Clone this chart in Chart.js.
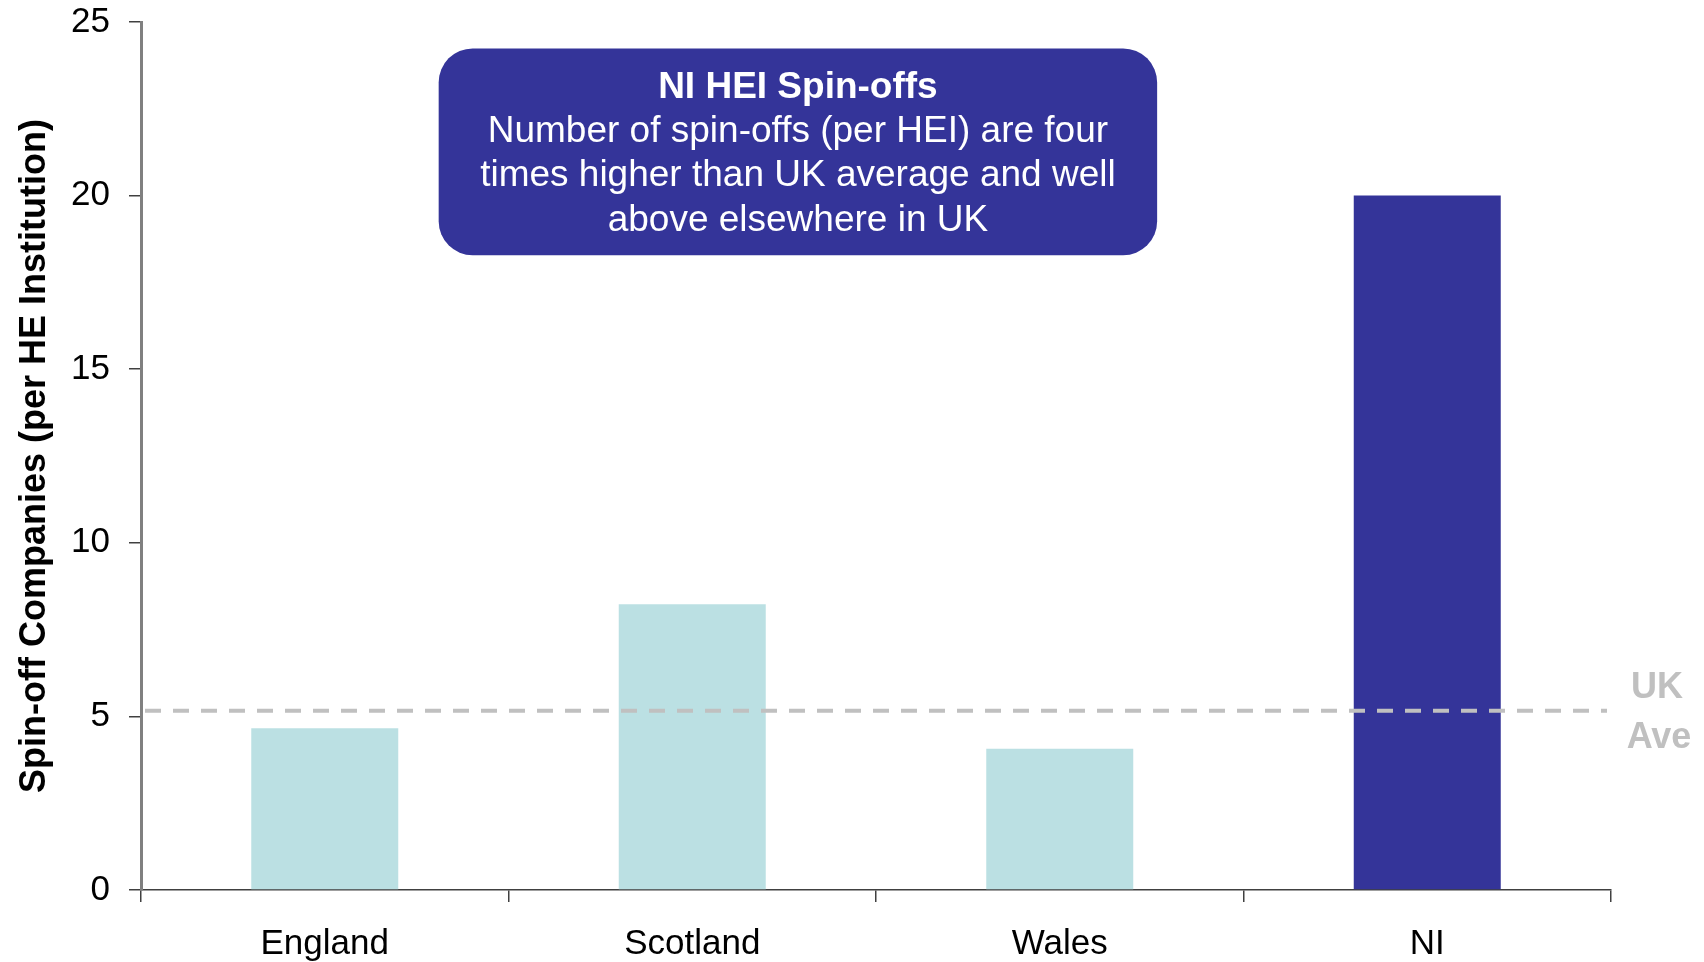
<!DOCTYPE html>
<html>
<head>
<meta charset="utf-8">
<script src="https://cdn.jsdelivr.net/npm/chart.js@4.4.1/dist/chart.umd.min.js"></script>
<style>
  html, body { margin: 0; padding: 0; background: #fff; }
  #wrap { width: 1704px; height: 962px; }
</style>
</head>
<body>
<div id="wrap"><canvas id="spinoffChart" width="1704" height="962"></canvas></div>
<script>
const regions = ['England', 'Scotland', 'Wales', 'NI'];
const spinoffsPerHEI = [4.66, 8.23, 4.07, 20];
const ukAverage = 5.16;
const yTicks = [0, 5, 10, 15, 20, 25];

const calloutTitle = 'NI HEI Spin-offs';
const calloutLines = [
    'Number of spin-offs (per HEI) are four',
    'times higher than UK average and well',
    'above elsewhere in UK'
];
const avgLabel = ['UK', 'Ave'];

const FONT = '"Liberation Sans", Arial, Helvetica, sans-serif';
const NAVY = '#343499';
const AQUA = '#bbe0e3';
const GREY = '#c0c0c0';

// callout box in axis units (category index / y value)
const calloutBox = { x0: 0.31, x1: 2.265, y0: 18.28, y1: 24.24 };

const overlayPlugin = {
    id: 'overlay',
    afterDatasetsDraw(chart) {
        const { ctx, chartArea, scales: { x, y } } = chart;
        ctx.save();

        // UK average dashed line
        const yAvg = y.getPixelForValue(ukAverage);
        ctx.strokeStyle = GREY;
        ctx.lineWidth = 4;
        ctx.setLineDash([16, 12]);
        ctx.beginPath();
        ctx.moveTo(chartArea.left + 4, yAvg);
        ctx.lineTo(chartArea.right - 4, yAvg);
        ctx.stroke();
        ctx.setLineDash([]);

        ctx.fillStyle = GREY;
        ctx.font = `bold 36px ${FONT}`;
        ctx.textAlign = 'center';
        ctx.textBaseline = 'middle';
        ctx.fillText(avgLabel[0], chartArea.right + 46, yAvg - 23);
        ctx.fillText(avgLabel[1], chartArea.right + 48, yAvg + 27);

        // callout
        const bx0 = x.getPixelForValue(calloutBox.x0);
        const bx1 = x.getPixelForValue(calloutBox.x1);
        const by0 = y.getPixelForValue(calloutBox.y1);
        const by1 = y.getPixelForValue(calloutBox.y0);
        ctx.fillStyle = NAVY;
        ctx.beginPath();
        ctx.roundRect(bx0, by0, bx1 - bx0, by1 - by0, 34);
        ctx.fill();

        const cx = (bx0 + bx1) / 2;
        ctx.fillStyle = '#fff';
        ctx.font = `bold 37px ${FONT}`;
        ctx.fillText(calloutTitle, cx, by0 + 39);
        ctx.font = `37px ${FONT}`;
        calloutLines.forEach((line, i) => ctx.fillText(line, cx, by0 + 83 + i * 44.5));

        ctx.restore();
    }
};

new Chart(document.getElementById('spinoffChart'), {
    type: 'bar',
    data: {
        labels: regions,
        datasets: [{
            data: spinoffsPerHEI,
            backgroundColor: regions.map(r => r === 'NI' ? NAVY : AQUA),
            borderWidth: 0,
            categoryPercentage: 1.0,
            barPercentage: 0.4
        }]
    },
    options: {
        responsive: false,
        animation: false,
        devicePixelRatio: 1,
        layout: { padding: { top: 22, right: 93, left: 0, bottom: 0 } },
        plugins: { legend: { display: false }, tooltip: { enabled: false } },
        scales: {
            x: {
                offset: true,
                grid: { offset: true, drawOnChartArea: false, drawTicks: true, tickLength: 12, color: '#404040', lineWidth: 1.5 },
                border: { display: true, color: '#404040', width: 1.5 },
                ticks: { color: '#000', font: { family: FONT, size: 35 }, padding: 21, maxRotation: 0 },
                afterFit: (scale) => { scale.height = 72; }
            },
            y: {
                min: 0,
                max: 25,
                afterBuildTicks: (scale) => { scale.ticks = yTicks.map(v => ({ value: v })); },
                grid: { drawOnChartArea: false, drawTicks: true, tickLength: 12, color: '#404040', lineWidth: 1.5 },
                border: { display: true, color: '#808080', width: 3 },
                ticks: { color: '#000', font: { family: FONT, size: 35 }, padding: 19 },
                title: {
                    display: true,
                    text: 'Spin-off Companies (per HE Institution)',
                    color: '#000',
                    font: { family: FONT, size: 36, weight: 'bold' },
                    padding: { top: 13, bottom: 0 }
                },
                afterFit: (scale) => {
                    scale.width = 141;
                    scale.paddingTop = 0;
                    scale.paddingBottom = 0;
                }
            }
        }
    },
    plugins: [overlayPlugin]
});
</script>
</body>
</html>
